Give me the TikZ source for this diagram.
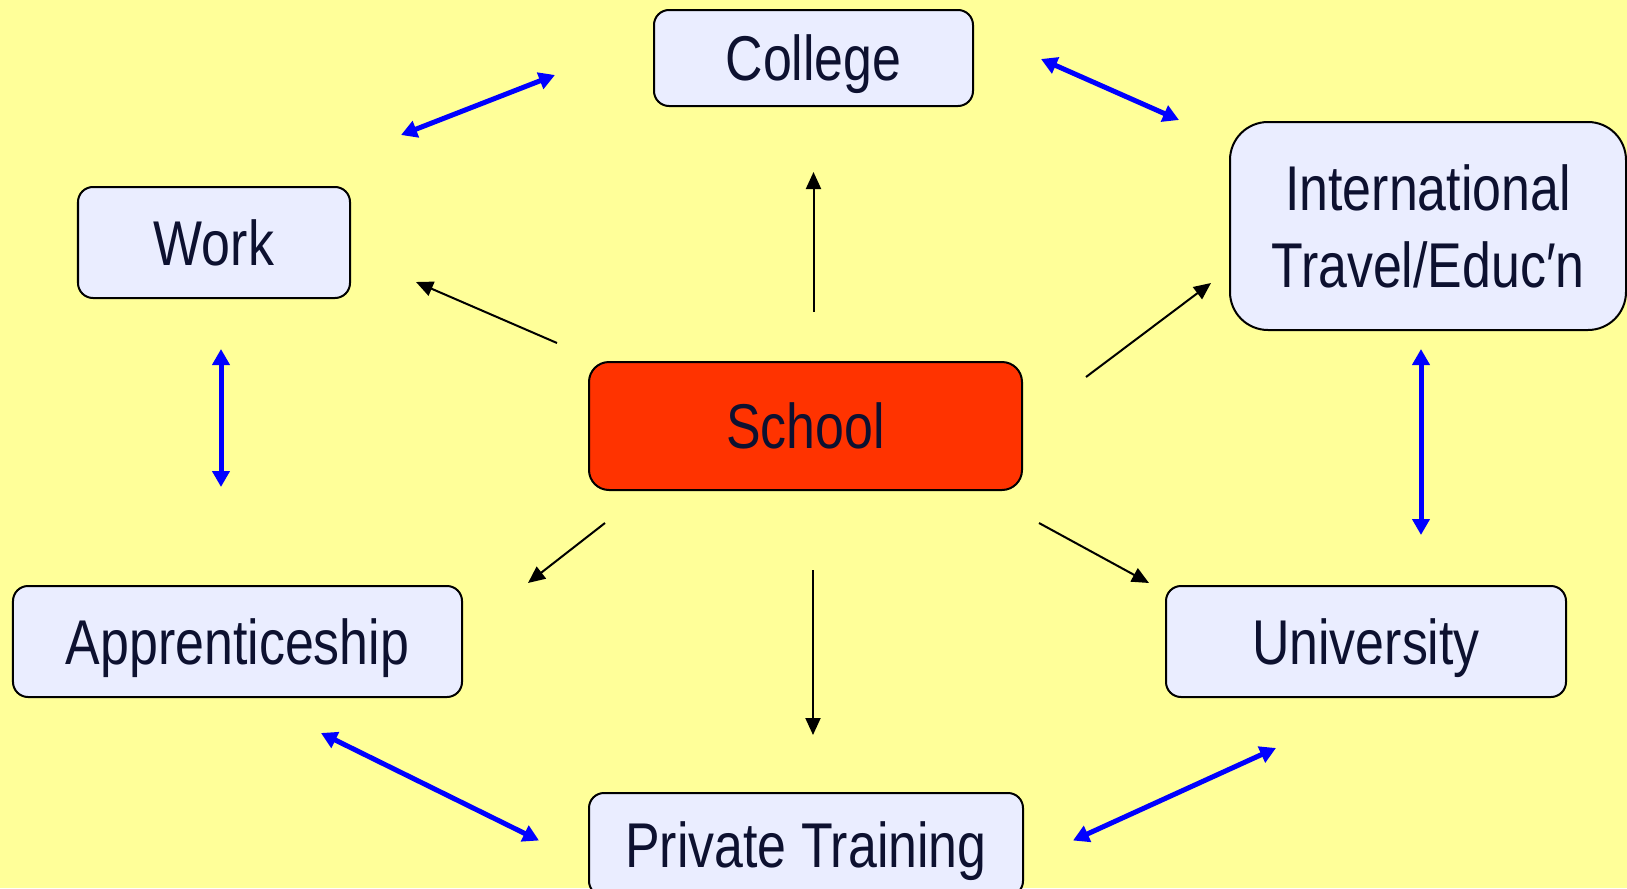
\documentclass[tikz,border=0pt]{standalone}
\usepackage{fontspec}
\setmainfont[FakeStretch=0.82]{Liberation Sans}
\usetikzlibrary{arrows.meta, positioning, calc}
\definecolor{bgcolor}{RGB}{255, 255, 153}
\definecolor{boxcolor}{RGB}{234, 237, 255}
\definecolor{schoolcolor}{RGB}{255, 51, 0}
\definecolor{textcolor}{RGB}{13, 17, 48}

\begin{document}
\begin{tikzpicture}[
    >={Triangle[length=0.17cm, width=0.15cm]},
    place/.style={rectangle, rounded corners=0.15cm, draw, line width=0.02cm, fill=boxcolor, text=textcolor, align=center, inner sep=0pt, text depth=0pt, font=\fontsize{18}{22}\selectfont},
    arrow/.style={->, line width=0.02cm},
    link/.style={{Triangle[length=0.16cm, width=0.17cm]}-{Triangle[length=0.16cm, width=0.17cm]}, blue, line width=0.05cm}
]

% Background
\fill[bgcolor] (0, 0) rectangle (16.27, 8.88);
\useasboundingbox (0, 0) rectangle (16.27, 8.88);

% Centre
\node[place, fill=schoolcolor, rounded corners=0.2cm, minimum width=4.33cm, minimum height=1.28cm] (school) at (8.055, 4.62) {School};

% Destinations
\node[place, minimum width=3.19cm, minimum height=0.96cm] (college) at (8.135, 8.30) {College};
\node[place, minimum width=2.72cm, minimum height=1.11cm] (work) at (2.14, 6.455) {Work};
\node[place, rounded corners=0.38cm, minimum width=3.96cm, minimum height=2.08cm] (intl) at (14.28, 6.62) {International\\Travel/Educ′n};
\node[place, minimum width=4.49cm, minimum height=1.11cm] (apprentice) at (2.375, 2.465) {Apprenticeship};
\node[place, minimum width=4.00cm, minimum height=1.11cm] (university) at (13.66, 2.465) {University};
\node[place, minimum width=4.34cm, minimum height=1.03cm] (private) at (8.06, 0.435) {Private Training};

% Arrows from school
\draw[arrow] ($(school.north west)+(-0.31, 0.18)$) -- ($(work.south east)+(0.65, 0.17)$);
\draw[arrow, shorten <=0.49cm, shorten >=0.65cm] (college.south |- school.north) -- (college.south);
\draw[arrow] ($(school.north east)+(0.63, -0.16)$) -- ($(intl.south west)+(-0.18, 0.48)$);
\draw[arrow] ($(school.south west)+(0.17, -0.32)$) -- ($(apprentice.north east)+(0.65, 0.02)$);
\draw[arrow, shorten <=0.79cm, shorten >=0.57cm] ([xshift=0.075cm]school.south) -- ([xshift=0.075cm]school.south |- private.north);
\draw[arrow] ($(school.south east)+(0.16, -0.32)$) -- ($(university.north west)+(-0.16, 0.02)$);

% Links between destinations
\draw[link] ($(work.north east)+(0.50, 0.51)$) -- ($(college.west)+(-0.98, -0.17)$);
\draw[link] ($(college.east)+(0.67, -0.01)$) -- ($(intl.north west)+(-0.50, 0.01)$);
\draw[link, shorten <=0.5cm, shorten >=0.98cm] ([xshift=0.07cm]work.south) -- ([xshift=0.07cm]work.south |- apprentice.north);
\draw[link, shorten <=0.18cm, shorten >=0.5cm] ([xshift=-0.07cm]intl.south) -- ([xshift=-0.07cm]intl.south |- university.north);
\draw[link] ($(apprentice.south east)+(-1.42, -0.35)$) -- ($(private.west)+(-0.49, 0.04)$);
\draw[link] ($(private.east)+(0.49, 0.04)$) -- ($(university.south)+(-0.90, -0.50)$);

\end{tikzpicture}
\end{document}
